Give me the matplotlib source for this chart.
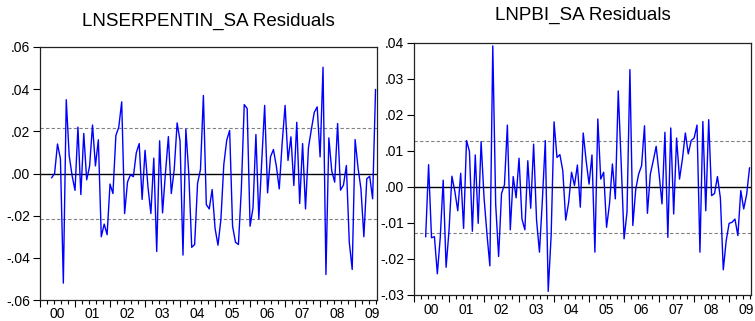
import numpy as np
import matplotlib
matplotlib.use("Agg")
import matplotlib.pyplot as plt
from matplotlib.ticker import FuncFormatter, FixedLocator

plt.rcParams['font.family'] = ['Liberation Sans', 'DejaVu Sans']

# monthly residuals, 2000M05 - 2009M08 (month index 0 = 2000M01)
first_month = 4
years = ['00', '01', '02', '03', '04', '05', '06', '07', '08', '09']

serpentin_resid = [
    -0.002, 0.000, 0.014, 0.007, -0.052, 0.035, 0.0085, -0.001, -0.008, 0.022,
    -0.010, 0.019, -0.003, 0.0035, 0.023, 0.0036, 0.016, -0.030, -0.024, -0.029,
    -0.005, -0.0095, 0.018, 0.022, 0.034, -0.019, -0.004, -0.0006, -0.0015, 0.0098,
    0.0142, -0.0123, 0.011, -0.0063, -0.019, 0.0073, -0.037, 0.0155, -0.0187, 0.0003,
    0.0175, -0.0095, 0.0019, 0.024, 0.0155, -0.0387, 0.021, -0.0003, -0.035, -0.0337,
    -0.0047, 0.0019, 0.037, -0.0147, -0.0168, -0.0076, -0.026, -0.034, -0.0218, 0.0043,
    0.0158, 0.0204, -0.025, -0.0326, -0.0337, -0.0076, 0.0327, 0.0308, -0.025, -0.0163,
    0.0185, -0.0215, 0.0058, 0.0323, -0.0092, 0.0079, 0.0114, 0.0035, -0.0073, 0.0145,
    0.0323, 0.0062, 0.0174, -0.0057, 0.0243, -0.0142, 0.0142, -0.0168, 0.0122, 0.0209,
    0.029, 0.0316, 0.0079, 0.0504, -0.0479, 0.0169, 0.0011, -0.0041, 0.0237, -0.0079,
    -0.0055, 0.0038, -0.0326, -0.0455, 0.0161, 0.0027, -0.0073, -0.030, -0.0025, -0.0013,
    -0.012, 0.0398,
]

pbi_resid = [
    -0.0138, 0.0062, -0.0141, -0.0138, -0.0241, -0.014, 0.0019, -0.0223, -0.0121, 0.003,
    -0.0012, -0.0066, 0.0038, -0.0115, 0.0129, 0.0099, -0.0123, 0.0089, -0.0101, 0.0126,
    -0.0029, -0.013, -0.0219, 0.0392, -0.0049, -0.0193, -0.0018, 0.0006, 0.0172, -0.0119,
    0.0029, -0.003, 0.008, -0.0089, -0.0119, 0.0073, -0.0059, 0.0119, -0.0092, -0.0181,
    -0.0036, 0.0129, -0.029, -0.0135, 0.0181, 0.0082, 0.009, 0.0045, -0.0092, -0.0043,
    0.0041, 0.0004, 0.0061, -0.0056, 0.015, 0.0073, 0.0008, 0.0089, -0.0181, 0.0189,
    0.0022, 0.0041, -0.0112, -0.0047, 0.0064, -0.0033, 0.0267, 0.0068, -0.0144, -0.007,
    0.0326, -0.0107, -0.0006, 0.0036, 0.0059, 0.017, -0.0073, 0.0036, 0.0073, 0.0113,
    0.0036, -0.0047, 0.0152, -0.014, 0.0164, -0.0075, 0.0136, 0.0022, 0.0078, 0.015,
    0.0092, 0.0129, 0.0136, 0.0172, -0.0181, 0.0182, -0.0066, 0.0187, -0.0024, -0.0018,
    0.0029, -0.003, -0.023, -0.0149, -0.0101, -0.0098, -0.0089, -0.0135, -0.001, -0.0061,
    -0.0021, 0.0053,
]

serpentin_se = 0.0215
pbi_se = 0.0128


def fmt(v, pos):
    s = "%.2f" % v
    return s.replace("0.", ".")


W, H = 755, 321
fig = plt.figure(figsize=(W / 100, H / 100), dpi=100)


def panel(rect, vals, se, yticks, title, title_y, xpad):
    x0, y0, x1, y1 = rect
    ax = fig.add_axes([x0 / W, 1 - y1 / H, (x1 - x0) / W, (y1 - y0) / H])
    t = np.arange(first_month, first_month + len(vals))
    ax.axhline(0, color='black', lw=1.0, zorder=1)
    ax.axhline(se, color='#808080', lw=0.8, ls=(0, (3, 2)), zorder=1)
    ax.axhline(-se, color='#808080', lw=0.8, ls=(0, (3, 2)), zorder=1)
    ax.plot(t, vals, color='#0000ff', lw=1.0, zorder=2)
    ax.set_xlim(0, 115.5)
    ax.set_ylim(yticks[0], yticks[-1])
    ax.set_yticks(yticks)
    ax.yaxis.set_major_formatter(FuncFormatter(fmt))
    # labels at mid-year, tall ticks at year start, small ticks between
    mids = [12 * k + 6 for k in range(len(years))]
    ax.set_xticks(mids)
    ax.set_xticklabels(years)
    ax.tick_params(axis='x', which='major', length=0, pad=xpad, labelsize=10)
    minors = [12 * k + 2.4 * j for k in range(len(years)) for j in range(1, 5)]
    ax.xaxis.set_minor_locator(FixedLocator(minors))
    ax.tick_params(axis='x', which='minor', length=3, width=0.8, direction='out')
    ax.tick_params(axis='y', length=5, width=0.8, direction='out', labelsize=10, pad=2)
    sec = ax.secondary_xaxis('bottom')
    sec.set_xticks([12 * k for k in range(len(years))])
    sec.set_xticklabels([])
    sec.tick_params(length=5, width=0.8, direction='out')
    sec.spines['bottom'].set_visible(False)
    for s in ax.spines.values():
        s.set_linewidth(0.9)
        s.set_color('#222222')
    fig.text(((x0 + x1) / 2) / W, 1 - title_y / H, title, ha='center', va='center',
             fontsize=13.5)
    return ax


panel((40, 47, 377, 300), serpentin_resid, serpentin_se,
      [-0.06, -0.04, -0.02, 0.0, 0.02, 0.04, 0.06], 'LNSERPENTIN_SA Residuals', 21, 5)
panel((414, 43, 751, 295), pbi_resid, pbi_se,
      [-0.03, -0.02, -0.01, 0.0, 0.01, 0.02, 0.03, 0.04], 'LNPBI_SA Residuals', 15, 6)

fig.savefig('out.png', dpi=100)
